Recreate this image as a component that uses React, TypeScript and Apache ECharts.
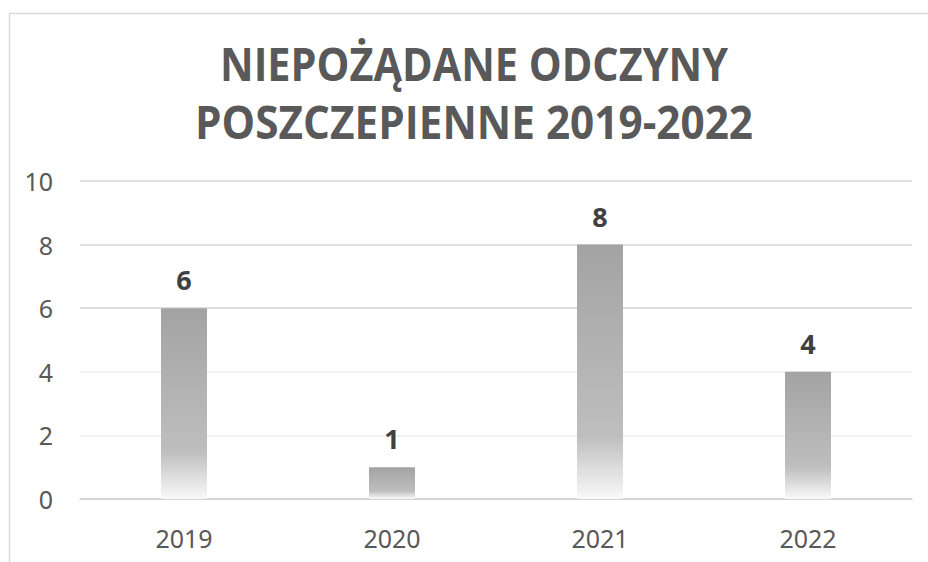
import React, { useEffect, useRef } from "react";
import * as echarts from "echarts";

const categories = ["2019", "2020", "2021", "2022"];
const values = [6, 1, 8, 4];
const titleLines = ["NIEPOŻĄDANE ODCZYNY", "POSZCZEPIENNE 2019-2022"];
const yTicks = { min: 0, max: 10, interval: 2 };

export default function App() {
  const ref = useRef<HTMLDivElement>(null);
  useEffect(() => {
    if (!ref.current) return;
    const chart = echarts.init(ref.current, null, { renderer: "svg" });
    const barColor = new echarts.graphic.LinearGradient(0, 0, 0, 1, [
      { offset: 0, color: "#a3a3a3" },
      { offset: 0.75, color: "#bebebe" },
      { offset: 1, color: "#f9f9f9" },
    ]);
    const titleScale = [0.9, 0.92];
    chart.setOption({
      animation: false,
      backgroundColor: "#ffffff",
      graphic: [
        {
          type: "rect",
          shape: { x: 9.5, y: 13.5, width: 1000, height: 1000 },
          style: { fill: "none", stroke: "#d9d9d9", lineWidth: 1.5 },
          silent: true,
        },
        ...titleLines.map((t, i) => ({
          type: "text",
          x: 474,
          y: 63 + i * 58,
          scaleX: titleScale[i],
          style: {
            text: t,
            fontFamily: "'Open Sans', 'Noto Sans', sans-serif",
            fontWeight: "bold",
            fontSize: 46,
            fill: "#595959",
            textAlign: "center",
            textVerticalAlign: "middle",
          },
        })),
      ],
      grid: { left: 80, right: 16, top: 181, bottom: 63, containLabel: false },
      xAxis: {
        type: "category",
        data: categories,
        axisLine: { show: true, lineStyle: { color: "#d0d0d0", width: 1.5 } },
        axisTick: { show: false },
        axisLabel: {
          color: "#595959",
          fontSize: 25,
          fontFamily: "'Noto Sans', sans-serif",
          margin: 26,
        },
      },
      yAxis: {
        type: "value",
        min: yTicks.min,
        max: yTicks.max,
        interval: yTicks.interval,
        axisLine: { show: false },
        axisTick: { show: false },
        axisLabel: {
          color: "#595959",
          fontSize: 25,
          fontFamily: "'Noto Sans', sans-serif",
          margin: 27,
        },
        splitLine: {
          lineStyle: {
            color: ["#d0d0d0", "#ececec", "#ececec", "#d4d4d4", "#d4d4d4", "#d4d4d4"],
            width: 1.5,
          },
        },
      },
      series: [
        {
          type: "bar",
          data: values,
          barWidth: 46,
          itemStyle: { color: barColor },
          label: {
            show: true,
            position: "top",
            distance: 15,
            color: "#404040",
            fontSize: 27,
            fontWeight: "bold",
            fontFamily: "'Noto Sans', sans-serif",
          },
        },
      ],
    });
    return () => chart.dispose();
  }, []);
  return (
    <div
      ref={ref}
      style={{ position: "fixed", left: 0, top: 0, width: 928, height: 562 }}
    />
  );
}
